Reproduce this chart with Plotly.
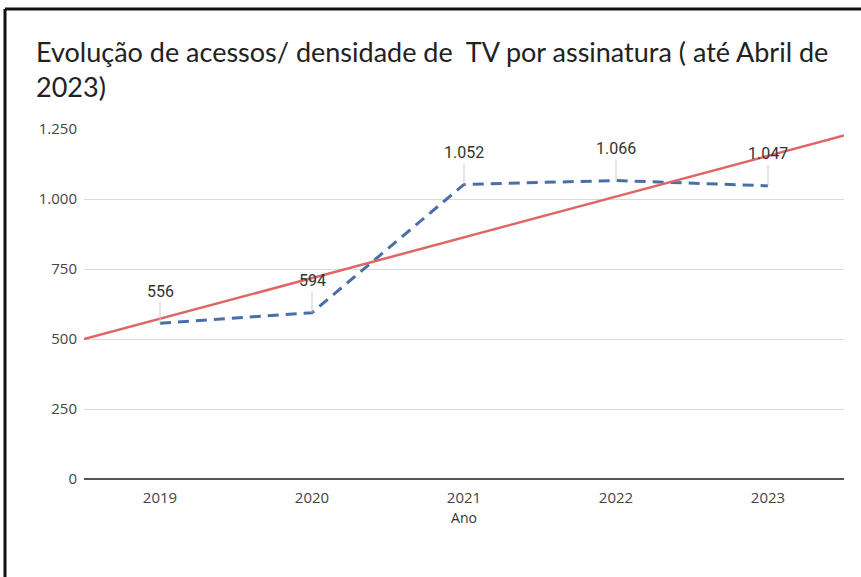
import numpy as np
import plotly.graph_objects as go

# ---- data ----
years = ["2019", "2020", "2021", "2022", "2023"]
acessos = [556, 594, 1052, 1066, 1047]
labels = ["556", "594", "1.052", "1.066", "1.047"]
y_ticks = [0, 250, 500, 750, 1000, 1250]
y_tick_text = ["0", "250", "500", "750", "1.000", "1.250"]

title_text = "Evolução de acessos/ densidade de  TV por assinatura ( até Abril de<br>2023)"
x_title = "Ano"

idx = list(range(len(years)))

# linear trendline (as in the source chart)
slope, intercept = np.polyfit(idx, acessos, 1)
trend_x = [-0.5, len(years) - 0.5]
trend_y = [intercept + slope * t for t in trend_x]

W, H = 861, 577
L, R, T, B = 84, 17, 129, 98
pw, ph = W - L - R, H - T - B

fig = go.Figure()
fig.add_trace(go.Scatter(x=idx, y=acessos, mode="lines",
                         line=dict(color="#4a6fa8", width=3, dash="11px,7px"),
                         hoverinfo="skip", showlegend=False))
fig.add_trace(go.Scatter(x=trend_x, y=trend_y, mode="lines",
                         line=dict(color="#e06666", width=2.5),
                         hoverinfo="skip", showlegend=False))

for i, (v, lab) in enumerate(zip(acessos, labels)):
    fig.add_annotation(x=i, y=v, text=lab, showarrow=True, arrowhead=0,
                       arrowwidth=1, arrowcolor="#c8c8c8", ax=0, ay=-32,
                       standoff=0, font=dict(family="Roboto", size=16, color="#333333"))

def px_to_paper_x(px):
    return (px - L) / pw

def px_to_paper_y(py):
    return (H - B - py) / ph

# outer border of the screenshot (top and left edges)
fig.add_shape(type="line", xref="paper", yref="paper",
              x0=px_to_paper_x(5), x1=px_to_paper_x(870),
              y0=px_to_paper_y(9), y1=px_to_paper_y(9),
              line=dict(color="#111111", width=3))
fig.add_shape(type="line", xref="paper", yref="paper",
              x0=px_to_paper_x(5), x1=px_to_paper_x(5),
              y0=px_to_paper_y(9), y1=px_to_paper_y(590),
              line=dict(color="#111111", width=3))

fig.update_layout(
    width=W, height=H,
    margin=dict(l=L, r=R, t=T, b=B),
    paper_bgcolor="white", plot_bgcolor="white",
    separators=",.",
    title=dict(text=title_text, x=36 / W, xanchor="left", xref="container",
               y=1 - 62 / H, yanchor="top", yref="container",
               font=dict(family="Lato, Open Sans", size=27, color="#222222")),
    xaxis=dict(range=[-0.5, len(years) - 0.5], tickvals=idx, ticktext=years,
               showgrid=False, zeroline=False, showline=False,
               ticklabelstandoff=8,
               tickfont=dict(family="Open Sans", size=15, color="#444444"),
               title=dict(text=x_title, font=dict(family="Open Sans", size=14, color="#333333"),
                          standoff=7)),
    yaxis=dict(range=[0, 1250], tickvals=y_ticks, ticktext=y_tick_text,
               showgrid=True, gridcolor="#d9d9d9", gridwidth=1,
               zeroline=True, zerolinecolor="#555555", zerolinewidth=2,
               showline=False, ticklabelstandoff=6,
               tickfont=dict(family="Open Sans", size=15, color="#444444")),
)

fig.write_html("out.html", config={"displayModeBar": False},
               post_script="document.body.style.margin='0';document.body.style.overflow='hidden';")
